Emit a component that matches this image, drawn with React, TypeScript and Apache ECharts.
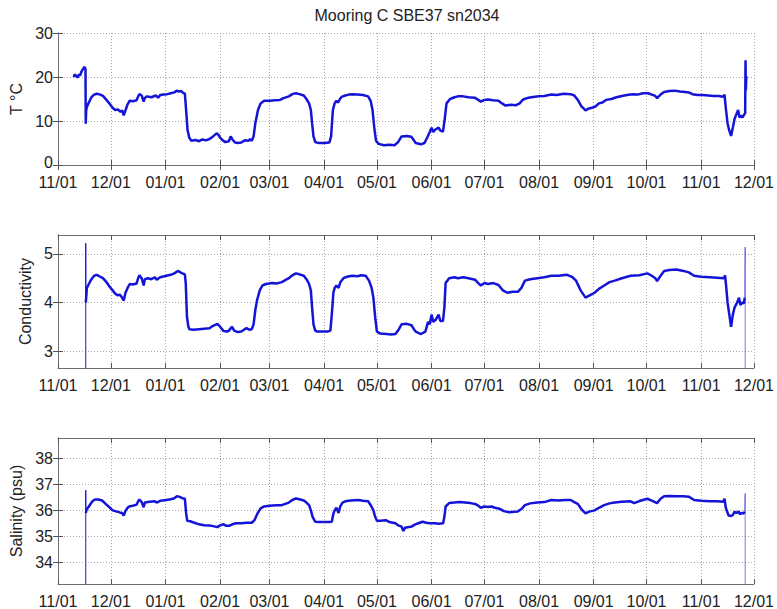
import React, { useEffect, useRef } from 'react';
import * as echarts from 'echarts';

// x values are days since 2006-11-01 (deployment timeline)
const startDate = '2006-11-01';
const monthStarts = [
  '2006-11-01', '2006-12-01', '2007-01-01', '2007-02-01', '2007-03-01', '2007-04-01', '2007-05-01',
  '2007-06-01', '2007-07-01', '2007-08-01', '2007-09-01', '2007-10-01', '2007-11-01', '2007-12-01',
];
const monthLabels = ['11/01', '12/01', '01/01', '02/01', '03/01', '04/01', '05/01', '06/01', '07/01', '08/01', '09/01', '10/01', '11/01', '12/01'];

const tempTicks = [0, 10, 20, 30];
const condTicks = [3, 4, 5];
const salTicks = [34, 35, 36, 37, 38];

const temperature: [number, number][] = [
  [8.9, 20.0], [9.5, 20.6], [10.3, 20.2], [11.2, 19.9], [11.8, 20.6], [12.5, 20.3], [13.3, 21.2], [14.3, 21.9], [15.0, 22.3], [15.6, 21.8],
  [15.75, 9.4], [16.0, 12.5], [16.6, 13.4], [17.5, 14.2], [19.0, 15.4], [20.5, 16.0], [22.0, 16.2], [24.0, 16.0], [25.5, 15.7], [27.5, 14.8],
  [29.5, 13.8], [31.0, 13.0], [32.5, 12.5], [34.0, 12.6], [35.5, 12.1], [36.5, 12.4], [37.3, 11.3], [38.2, 12.3], [39.5, 13.8], [40.7, 14.6],
  [42.5, 14.5], [44.6, 14.7], [45.5, 15.6], [46.2, 16.1], [47.5, 15.8], [48.6, 14.4], [49.2, 15.2], [50.5, 15.6], [53, 15.4], [55.5, 15.8],
  [57, 15.3], [58, 15.9], [60, 16.0], [62, 16.1], [64, 16.3], [66, 16.5], [67.5, 16.9], [68.5, 16.7], [70, 16.8], [71, 16.4], [72, 16.2],
  [72.8, 12.0], [73.5, 8.0], [74.5, 6.2], [75.7, 5.5], [78, 5.7], [80, 5.4], [82, 5.8], [84, 5.6], [86, 5.9], [88, 6.5], [90, 7.2],
  [91, 6.9], [92, 6.2], [93.5, 5.6], [95, 5.2], [97, 5.4], [98, 6.5], [99, 5.8], [100.5, 5.1], [102, 5.0], [104, 5.1], [106, 5.6],
  [108, 5.5], [109, 5.9], [110, 5.5], [111, 6.5], [112, 9.5], [113.5, 12.5], [115, 14.0], [117, 14.6], [120, 14.6], [123, 14.7],
  [126, 14.8], [128, 15.2], [131, 15.6], [133, 16.1], [135, 16.3], [137, 16.1], [139.5, 15.8], [141, 15.0], [142.5, 14.0], [143.5, 12.5],
  [144.2, 9.5], [145, 6.5], [146, 5.2], [148, 5.0], [151, 5.0], [154, 5.1], [155, 6.5], [156, 12.5], [157, 14.0], [158, 14.6],
  [159, 14.2], [160, 15.0], [161, 15.5], [163, 15.8], [165, 16.0], [167, 16.1], [170, 16.0], [173, 15.9], [176, 15.6], [177.5, 14.5],
  [178.5, 12.5], [179.5, 8.5], [180.5, 5.5], [182, 4.8], [185, 4.5], [188, 4.6], [191, 4.5], [193, 5.2], [195, 6.5], [198, 6.6],
  [200.5, 6.4], [202, 5.6], [203, 5.0], [206, 4.7], [208, 5.0], [209.5, 6.2], [211, 7.5], [212, 8.5], [213, 7.5], [214, 8.0],
  [216, 8.5], [217, 7.8], [218.5, 7.6], [219.5, 10.5], [220.5, 14.0], [222.5, 15.0], [225, 15.4], [227, 15.6], [230, 15.6], [233, 15.4],
  [236.5, 15.3], [238.5, 14.8], [240, 14.4], [242, 14.8], [244, 14.9], [247, 14.7], [250, 14.6], [252, 14.0], [254, 13.5], [257, 13.7],
  [260, 13.6], [262, 14.0], [264, 14.9], [267, 15.3], [270.5, 15.5], [273, 15.6], [276, 15.7], [280, 16.0], [283, 15.9], [287, 16.2],
  [291, 16.1], [293, 15.8], [295, 14.8], [297, 13.4], [299.4, 12.4], [301, 12.8], [303, 13.0], [305, 13.3], [307, 14.0], [309, 14.2],
  [311, 14.8], [314, 15.0], [317, 15.4], [320, 15.7], [323, 15.9], [326, 16.1], [329, 16.0], [332, 16.3], [335, 16.3], [337, 16.0],
  [339, 15.7], [340, 15.2], [342, 16.0], [344, 16.6], [347, 16.8], [350, 16.9], [353, 16.7], [356, 16.6], [358, 16.5], [360, 16.1],
  [363, 15.9], [366, 15.9], [369, 15.8], [372, 15.7], [375, 15.7], [377.5, 15.5], [378.3, 16.0], [379, 13.0], [380, 9.5], [381, 7.8],
  [382, 6.6], [383, 8.5], [384, 10.5], [385, 11.5], [386, 12.5], [386.8, 10.8], [387.5, 11.2], [388.5, 10.8], [389.5, 11.5], [390.0, 11.8],
  [390.2, 23.8], [390.4, 17.0], [390.6, 19.8], [390.9, 20.2],
];

const conductivity: [number, number][] = [
  [15.8, 4.0], [16.4, 4.3], [17.5, 4.38], [19, 4.48], [20.5, 4.55], [22, 4.57], [24, 4.53], [25.5, 4.5], [27.5, 4.42], [29.4, 4.32],
  [31, 4.25], [32, 4.2], [33.5, 4.15], [35, 4.16], [36, 4.12], [37.3, 4.04], [38.3, 4.2], [39.5, 4.3], [40.7, 4.38], [42.5, 4.37],
  [44.6, 4.39], [45.5, 4.5], [46.2, 4.56], [47.5, 4.5], [48.6, 4.35], [49.3, 4.48], [51, 4.5], [53, 4.48], [55, 4.52], [56, 4.47],
  [58, 4.52], [61.5, 4.55], [64, 4.57], [66, 4.6], [68, 4.65], [69.5, 4.62], [70.6, 4.6], [72, 4.58], [72.5, 4.4], [73.2, 3.7],
  [74, 3.5], [74.6, 3.45], [77, 3.44], [80, 3.45], [83, 3.46], [86, 3.47], [88, 3.52], [90.5, 3.56], [92, 3.5], [94, 3.41],
  [96, 3.4], [97, 3.42], [98.7, 3.5], [100, 3.42], [102, 3.39], [104, 3.4], [106, 3.45], [107, 3.47], [108.5, 3.44], [110, 3.45],
  [111, 3.55], [112, 3.85], [113, 4.05], [114.5, 4.25], [116, 4.35], [118, 4.38], [121.6, 4.4], [124, 4.39], [127, 4.42], [129, 4.46],
  [131, 4.5], [133, 4.56], [135, 4.6], [137, 4.58], [139.5, 4.55], [141, 4.48], [142.5, 4.38], [143.5, 4.25], [144.2, 3.9], [145, 3.55],
  [146, 3.42], [147, 3.4], [150, 3.4], [153, 3.4], [154.6, 3.42], [155.5, 3.8], [156.3, 4.2], [157, 4.3], [158, 4.35], [159.2, 4.3],
  [160.3, 4.42], [162, 4.5], [164, 4.53], [167, 4.55], [170, 4.54], [172, 4.56], [174.6, 4.55], [176.5, 4.45], [178, 4.3], [179, 4.1],
  [180, 3.7], [181, 3.4], [183, 3.36], [186.5, 3.35], [189, 3.34], [191.5, 3.35], [193.5, 3.45], [195, 3.55], [198, 3.56], [200.6, 3.53],
  [202, 3.45], [203, 3.4], [206, 3.35], [208.5, 3.4], [210, 3.6], [211, 3.55], [212, 3.75], [213, 3.6], [214.5, 3.65], [216, 3.75],
  [217, 3.62], [218.5, 3.62], [219.3, 3.9], [220, 4.4], [222, 4.5], [225, 4.52], [227, 4.5], [230, 4.52], [233, 4.5], [236.7, 4.47],
  [238.5, 4.4], [240, 4.35], [242, 4.4], [244, 4.38], [247, 4.4], [250, 4.36], [252.5, 4.25], [255, 4.2], [258, 4.22], [261, 4.22],
  [263, 4.3], [265, 4.45], [268, 4.48], [272, 4.5], [276, 4.52], [280, 4.55], [284, 4.55], [289, 4.57], [292, 4.52], [294, 4.45],
  [296.6, 4.25], [299.4, 4.1], [302, 4.15], [304.5, 4.2], [307, 4.28], [310, 4.35], [313, 4.42], [316, 4.45], [320, 4.5], [325, 4.55],
  [330, 4.56], [334.5, 4.6], [337, 4.55], [339, 4.5], [340, 4.44], [342, 4.55], [344, 4.65], [347, 4.67], [351, 4.68], [355, 4.65],
  [358, 4.62], [361, 4.55], [365, 4.53], [370, 4.52], [374, 4.51], [378, 4.5], [378.6, 4.56], [379.3, 4.3], [380, 4.0], [381, 3.75],
  [382, 3.5], [383, 3.75], [384, 3.9], [385.5, 4.0], [386.5, 4.1], [387.3, 3.95], [388.3, 4.0], [389.2, 3.98], [389.8, 4.1],
];
const condSpikeStart: [number, number][] = [[15.75, 0], [15.75, 5.22], [15.8, 4.0]];
const condSpikeEnd: [number, number][] = [[389.8, 4.1], [390.0, 5.14], [390.0, 0]];

const salinity: [number, number][] = [
  [15.8, 35.9], [16.3, 36.05], [17, 36.1], [18, 36.2], [19.5, 36.35], [21, 36.42], [23, 36.42], [25, 36.38], [27.5, 36.22], [29.5, 36.1],
  [31, 36.0], [33, 35.96], [35, 35.92], [36.3, 35.9], [37.3, 35.8], [38.3, 35.98], [39.5, 36.1], [40.7, 36.16], [42.5, 36.18], [44.6, 36.22],
  [45.5, 36.35], [46.2, 36.42], [47.5, 36.32], [48.6, 36.12], [49.3, 36.3], [52, 36.33], [55, 36.35], [56, 36.3], [58, 36.37], [61.5, 36.4],
  [64, 36.43], [66, 36.47], [67.5, 36.55], [69, 36.52], [70.6, 36.47], [72, 36.45], [72.7, 35.9], [73.3, 35.6], [75, 35.58], [77, 35.53],
  [80, 35.46], [83, 35.42], [86, 35.41], [88, 35.39], [90.4, 35.35], [92, 35.42], [94, 35.46], [95.5, 35.4], [97, 35.4], [99, 35.46],
  [101, 35.5], [104, 35.5], [107, 35.52], [110, 35.52], [111.5, 35.62], [113, 35.85], [115, 36.08], [117, 36.15], [120, 36.18], [124, 36.2],
  [127, 36.2], [129, 36.25], [131, 36.3], [133, 36.4], [135, 36.46], [137, 36.43], [139.5, 36.38], [141, 36.3], [142.5, 36.2], [143.5, 36.0],
  [144.5, 35.75], [146, 35.56], [148, 35.55], [151, 35.55], [154, 35.55], [155.4, 35.56], [156.2, 35.85], [157, 36.0], [158, 36.1], [159.2, 35.9],
  [160.2, 36.15], [161.5, 36.3], [163, 36.35], [166, 36.38], [170.6, 36.4], [173, 36.37], [176, 36.35], [177.5, 36.2], [179, 36.0], [180, 35.75],
  [181, 35.6], [183, 35.6], [186, 35.62], [188, 35.55], [191.5, 35.5], [193, 35.42], [195, 35.37], [196, 35.2], [197, 35.33], [198.5, 35.35],
  [200.6, 35.37], [202.5, 35.45], [204.5, 35.5], [207, 35.56], [209, 35.52], [211, 35.5], [214, 35.5], [216, 35.48], [218.6, 35.5], [219.4, 35.8],
  [220, 36.15], [222, 36.28], [225, 36.3], [228, 36.32], [231, 36.3], [234, 36.28], [236.7, 36.25], [238.5, 36.18], [240, 36.1], [242, 36.15],
  [244, 36.13], [246, 36.15], [248, 36.1], [251, 36.05], [253, 35.97], [256, 35.93], [259, 35.95], [261, 35.96], [263, 36.05], [265, 36.2],
  [268, 36.27], [272, 36.3], [276, 36.32], [280, 36.4], [284, 36.38], [288, 36.4], [291, 36.4], [293, 36.32], [295, 36.25], [297, 36.05],
  [299.4, 35.88], [301.5, 35.95], [304.5, 36.0], [307, 36.1], [310, 36.2], [313, 36.27], [316, 36.3], [320, 36.33], [325, 36.35], [327, 36.28],
  [330, 36.36], [334.5, 36.45], [337, 36.38], [340, 36.28], [342, 36.45], [344, 36.55], [347, 36.56], [351, 36.55], [355, 36.55], [358, 36.53],
  [361, 36.4], [365, 36.37], [370, 36.35], [374, 36.35], [377.5, 36.33], [378.3, 36.45], [379, 36.1], [380.6, 35.8], [382, 35.78], [383, 35.82],
  [384, 35.95], [385, 35.9], [386.3, 35.95], [387, 35.85], [388, 35.9], [389, 35.88], [389.8, 35.95],
];
const salSpikeStart: [number, number][] = [[15.75, 0], [15.75, 36.78], [15.8, 35.9]];
const salSpikeEnd: [number, number][] = [[389.8, 35.95], [390.0, 36.65], [390.0, 0]];

const FONT = 'Liberation Sans, Arial, Helvetica, sans-serif';
const LINE = '#1414d8';

function dayOffset(s: string): number {
  const [y, m, d] = s.split('-').map(Number);
  const [y0, m0, d0] = startDate.split('-').map(Number);
  return Math.round((Date.UTC(y, m - 1, d) - Date.UTC(y0, m0 - 1, d0)) / 86400000);
}

export default function App() {
  const ref = useRef<HTMLDivElement>(null);
  useEffect(() => {
    document.body.style.margin = '0';
    if (!ref.current) return;
    const chart = echarts.init(ref.current, undefined, { renderer: 'svg' });
    const monthTicks = monthStarts.map(dayOffset);
    const xMax = monthTicks[monthTicks.length - 1];
    const fmtX = (v: number) => {
      const i = monthTicks.findIndex((t) => Math.abs(t - v) < 0.01);
      return i >= 0 ? monthLabels[i] : '';
    };
    const grids = [
      { left: 58, top: 33, width: 699, height: 132 },
      { left: 58, top: 235, width: 699, height: 133 },
      { left: 58, top: 438, width: 699, height: 147 },
    ];
    const yCfg = [
      { min: 0, max: 30, ticks: tempTicks, name: 'T °C', gap: 31 },
      { min: 2.65, max: 5.39, ticks: condTicks, name: 'Conductivity', gap: 22 },
      { min: 33.15, max: 38.8, ticks: salTicks, name: 'Salinity (psu)', gap: 30 },
    ];
    const frame = { show: true, lineStyle: { color: '#6e6e6e', width: 1 } };
    const tickStyle = { color: '#555', width: 1 };
    const split = { show: true, lineStyle: { color: '#a8a8a8', width: 1, type: [1, 2] as number[] } };
    const labelBase = { fontSize: 16, lineHeight: 14, color: '#222', fontFamily: FONT };
    const xAxis: any[] = [];
    const yAxis: any[] = [];
    grids.forEach((_, i) => {
      xAxis.push({
        type: 'value', gridIndex: i, min: 0, max: xMax, position: 'bottom',
        axisLine: frame,
        axisTick: { show: true, inside: true, length: 5, customValues: monthTicks, lineStyle: tickStyle },
        axisLabel: { show: true, customValues: monthTicks, formatter: fmtX, ...labelBase, margin: 10 },
        splitLine: split,
      });
      xAxis.push({
        type: 'value', gridIndex: i, min: 0, max: xMax, position: 'top',
        axisLine: frame,
        axisTick: { show: true, inside: true, length: 5, customValues: monthTicks, lineStyle: tickStyle },
        axisLabel: { show: false },
        splitLine: { show: false },
      });
      const c = yCfg[i];
      yAxis.push({
        type: 'value', gridIndex: i, min: c.min, max: c.max, position: 'left',
        name: c.name, nameLocation: 'middle', nameGap: c.gap,
        nameTextStyle: { fontSize: 16, color: '#222', fontFamily: FONT },
        axisLine: frame,
        axisTick: { show: true, inside: true, length: 5, customValues: c.ticks, lineStyle: tickStyle },
        axisLabel: {
          show: true, customValues: c.ticks, ...labelBase, margin: 5,
          formatter: (v: number) => (v === c.min ? `{low|${v}}` : `${v}`),
          rich: { low: { ...labelBase, padding: [0, 0, 5, 0] } },
        },
        splitLine: split,
      });
      yAxis.push({
        type: 'value', gridIndex: i, min: c.min, max: c.max, position: 'right',
        axisLine: frame,
        axisTick: { show: true, inside: true, length: 5, customValues: c.ticks, lineStyle: tickStyle },
        axisLabel: { show: false },
        splitLine: { show: false },
      });
    });
    const mainLine = (data: [number, number][], idx: number) => ({
      type: 'line', data, xAxisIndex: idx * 2, yAxisIndex: idx * 2, showSymbol: false, symbol: 'none',
      lineStyle: { color: LINE, width: 2.5 }, clip: true, silent: true,
    });
    const spikeLine = (data: [number, number][], idx: number, opacity: number) => ({
      type: 'line', data, xAxisIndex: idx * 2, yAxisIndex: idx * 2, showSymbol: false, symbol: 'none',
      lineStyle: { color: LINE, width: 1, opacity }, clip: true, silent: true,
    });
    chart.setOption({
      animation: false,
      backgroundColor: '#ffffff',
      grid: grids,
      xAxis,
      yAxis,
      graphic: [
        {
          type: 'text', x: 407, y: 15,
          style: { text: 'Mooring C SBE37 sn2034', fontSize: 16, fontFamily: FONT, fill: '#222', align: 'center', verticalAlign: 'middle' },
        },
      ],
      series: [
        mainLine(temperature, 0),
        mainLine(conductivity, 1),
        spikeLine(condSpikeStart, 1, 1),
        spikeLine(condSpikeEnd, 1, 0.55),
        mainLine(salinity, 2),
        spikeLine(salSpikeStart, 2, 1),
        spikeLine(salSpikeEnd, 2, 0.55),
      ],
    });
    return () => chart.dispose();
  }, []);
  return <div ref={ref} style={{ width: 777, height: 609 }} />;
}
